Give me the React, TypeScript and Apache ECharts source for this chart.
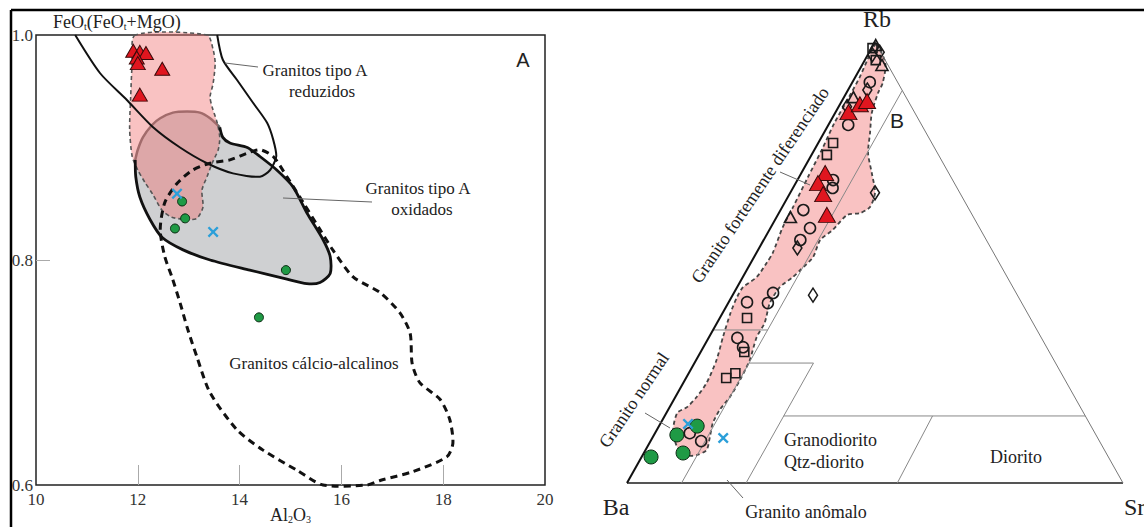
import React, { useEffect, useRef } from "react";
import * as echarts from "echarts";

const SERIF = '"Liberation Serif", "Times New Roman", serif';
const SANS = '"Liberation Sans", Arial, sans-serif';

// ---------- Panel A: FeOt/(FeOt+MgO) vs Al2O3 ----------
const xTickValues = [12, 14, 16, 18];
const yTickValues = [0.8];

const reducedField = [
  [10.77, 1.0], [11.26, 0.966], [11.79, 0.942], [12.3, 0.918], [12.83, 0.9], [13.36, 0.886],
  [13.87, 0.877], [14.4, 0.874], [14.6, 0.88], [14.72, 0.892], [14.66, 0.907], [14.54, 0.922],
  [14.26, 0.94], [13.95, 0.96], [13.67, 0.978], [13.56, 1.0],
];

const oxidizedField = [
  [11.96, 0.874], [11.95, 0.889], [12.0, 0.898], [12.1, 0.909], [12.28, 0.92], [12.44, 0.926],
  [12.69, 0.931], [12.97, 0.932], [13.22, 0.931], [13.42, 0.926], [13.61, 0.918], [13.67, 0.909],
  [13.81, 0.904], [14.15, 0.9], [14.4, 0.892], [14.73, 0.88], [15.05, 0.865], [15.32, 0.842],
  [15.64, 0.818], [15.78, 0.803], [15.78, 0.788], [15.58, 0.78], [15.32, 0.779], [14.93, 0.783],
  [14.2, 0.791], [13.42, 0.8], [12.89, 0.809], [12.48, 0.82], [12.24, 0.836], [12.04, 0.856],
];

const calcAlkField = [
  [12.44, 0.827], [12.53, 0.851], [12.77, 0.868], [13.08, 0.88], [13.42, 0.886], [13.81, 0.889],
  [14.15, 0.895], [14.4, 0.898], [14.66, 0.892], [14.93, 0.874], [15.25, 0.851], [15.58, 0.827],
  [15.83, 0.809], [16.23, 0.785], [16.76, 0.771], [17.15, 0.753], [17.35, 0.735], [17.39, 0.708],
  [17.54, 0.691], [17.94, 0.676], [18.13, 0.658], [18.19, 0.637], [18.07, 0.625], [17.41, 0.612],
  [16.76, 0.604], [16.5, 0.6], [15.64, 0.6], [15.13, 0.613], [14.46, 0.631], [13.95, 0.649],
  [13.42, 0.682], [13.16, 0.714], [12.97, 0.74], [12.83, 0.762], [12.67, 0.785], [12.53, 0.803],
];

const sampleFieldA = [
  [11.95, 1.0], [11.89, 0.975], [11.86, 0.945], [11.84, 0.916], [11.89, 0.892], [12.0, 0.88],
  [12.14, 0.869], [12.3, 0.858], [12.48, 0.844], [12.67, 0.838], [12.97, 0.836], [13.16, 0.837],
  [13.28, 0.847], [13.26, 0.862], [13.36, 0.874], [13.46, 0.886], [13.58, 0.898], [13.61, 0.909],
  [13.56, 0.922], [13.46, 0.936], [13.42, 0.945], [13.48, 0.957], [13.52, 0.975], [13.48, 0.987],
  [13.36, 1.0],
];

const redTriA = [
  [11.91, 0.986], [12.04, 0.985], [12.16, 0.984], [11.98, 0.98], [12.0, 0.975], [12.48, 0.97], [12.04, 0.947],
];
const greenA = [[12.87, 0.852], [12.93, 0.837], [12.73, 0.828], [14.91, 0.791], [14.38, 0.749]];
const blueA = [[12.77, 0.859], [13.48, 0.825]];

// ---------- Panel B: Rb-Ba-Sr ternary, pairs are [Rb %, Sr %] (Ba = 100 - Rb - Sr) ----------
const triangleEdges = {
  left: [[0, 0], [100, 0]],
  base: [[0, 0], [0, 100]],
  right: [[0, 100], [100, 0]],
};
const fieldLines = [
  [[0, 11], [89, 11]],
  [[34.7, 0], [34.7, 11]],
  [[27.2, 11], [27.2, 24]],
  [[27.2, 24], [0, 24]],
  [[15.2, 24], [15.2, 84.8]],
  [[15.2, 54], [0, 54.5]],
];

const sampleFieldB = [
  [99.5, 0.5], [95.2, 4.5], [90.7, 6.2], [88.4, 6.4], [83.9, 7.4], [79.4, 9.3], [74.8, 11.2],
  [70.3, 14.2], [65.8, 17.1], [62.6, 17.7], [61.2, 16.4], [60.8, 14.0], [57.4, 12.8], [55.1, 11.4],
  [51.2, 11.9], [48.3, 10.8], [46.7, 10.1], [44.4, 8.6], [40.8, 8.4], [36.3, 9.6], [33.1, 9.6],
  [27.9, 10.8], [23.4, 11.1], [19.5, 11.0], [16.6, 10.4], [13.6, 10.5], [10.4, 11.5], [7.5, 12.3],
  [6.3, 10.9], [6.3, 8.9], [8.2, 6.0], [12.0, 3.3], [15.9, 2.2], [17.2, 3.5], [19.5, 4.3],
  [22.7, 4.7], [27.9, 4.1], [33.1, 2.8], [38.5, 1.6], [42.2, 1.1], [44.4, 1.2], [46.7, 2.8],
  [49.9, 3.2], [52.2, 3.3], [58.0, 2.4], [62.6, 2.2], [69.4, 1.8], [75.5, 1.5], [81.6, 1.0],
  [87.5, 1.0], [92.1, 0.9], [95.9, 0.5], [98.2, 0.3],
];

const redTriB = [[84.1, 2.6], [85.9, 4.0], [86.6, 5.1], [70.3, 4.8], [68.0, 4.5], [65.5, 6.8], [60.8, 9.9]];
const openCircleB = [
  [81.2, 4.0], [90.9, 3.5], [68.7, 7.2], [66.9, 8.0], [61.9, 4.6], [57.8, 8.0], [55.1, 7.4],
  [41.0, 3.7], [43.1, 7.9], [40.8, 8.0], [32.9, 5.8], [30.8, 8.0], [11.3, 7.0], [9.5, 10.2],
];
const openSquareB = [[77.1, 3.0], [74.4, 3.1], [37.4, 5.5], [29.7, 8.8], [24.9, 9.4], [23.8, 8.1], [98.6, 0.2], [95.9, 2.2]];
const openTriB = [[99.3, 0.5], [94.8, 4.0], [87.5, 1.9], [60.3, 2.8]];
const diamondB = [[65.8, 17.1], [42.6, 16.2], [53.3, 7.7], [85.3, 1.7], [89.1, 3.9], [97.1, 0.9], [97.7, 2.1]];
const greenB = [[12.9, 7.7], [10.9, 4.6], [6.8, 7.9], [5.9, 1.9]];
const blueB = [[10.2, 14.3], [13.4, 5.6]];

// ternary -> cartesian of the second grid (X = Sr + Rb/2, Y = Rb)
const T = (p: number[]) => [p[1] + p[0] / 2, p[0]];

const CROSS = "path://M0,1.5L1.5,0L5,3.5L8.5,0L10,1.5L6.5,5L10,8.5L8.5,10L5,6.5L1.5,10L0,8.5L3.5,5Z";

type ShapeOpt = { g: number; z: number; closed?: boolean; fill?: string; stroke: string; lw: number; dash?: number[]; smooth?: number };

function shapeSeries(pts: number[][], o: ShapeOpt) {
  return {
    type: "custom",
    xAxisIndex: o.g,
    yAxisIndex: o.g,
    z: o.z,
    silent: true,
    clip: false,
    data: [pts[0]],
    renderItem: (_params: any, api: any) => ({
      type: o.closed ? "polygon" : "polyline",
      shape: { points: pts.map((p) => api.coord(p)), smooth: o.smooth ?? 0 },
      style: {
        fill: o.closed ? o.fill ?? null : null,
        stroke: o.stroke,
        lineWidth: o.lw,
        lineDash: o.dash ?? null,
      },
    }),
  };
}

function scatter(g: number, data: number[][], symbol: string, size: any, color: string, border: string, bw: number, z = 10) {
  return {
    type: "scatter",
    xAxisIndex: g,
    yAxisIndex: g,
    data,
    symbol,
    symbolSize: size,
    z,
    silent: true,
    itemStyle: { color, borderColor: border, borderWidth: bw, opacity: 1 },
  };
}

function txt(text: string, x: number, y: number, size: number, opts: any = {}) {
  return {
    type: "text",
    x,
    y,
    rotation: opts.rotation ?? 0,
    z: 50,
    silent: true,
    style: {
      text,
      fill: opts.fill ?? "#222",
      fontSize: size,
      fontFamily: opts.font ?? SERIF,
      align: opts.align ?? "center",
      verticalAlign: "middle",
      rich: opts.rich,
    },
  };
}

function gline(x1: number, y1: number, x2: number, y2: number, color = "#555", w = 1) {
  return { type: "line", silent: true, z: 40, shape: { x1, y1, x2, y2 }, style: { stroke: color, lineWidth: w } };
}

export default function App() {
  const ref = useRef<HTMLDivElement>(null);
  useEffect(() => {
    if (!ref.current) return;
    const chart = echarts.init(ref.current, undefined, { renderer: "svg" });
    const pinkFill = "rgba(240,110,110,0.42)";
    const subRich = {
      n: { fontSize: 18, fontFamily: SERIF, color: "#222" },
      s: { fontSize: 10, fontFamily: SERIF, color: "#222", padding: [9, 0, 0, 0] },
    };
    // outline of the oxidized field: the part hidden under the sample field is drawn lighter
    const oxArc = oxidizedField.slice(1, 11);
    const oxRest = oxidizedField.slice(10).concat(oxidizedField.slice(0, 2));
    const option: any = {
      animation: false,
      grid: [
        { left: 36, top: 35, width: 509, height: 450, show: true, borderColor: "#222", borderWidth: 1.5, backgroundColor: "transparent", outerBoundsMode: "none" },
        { left: 627, top: 42, width: 496, height: 441, show: false, outerBoundsMode: "none" },
      ],
      xAxis: [
        {
          gridIndex: 0, type: "value", min: 10, max: 20, interval: 2,
          axisLine: { show: false }, splitLine: { show: false },
          axisTick: { show: true, inside: true, length: 20, lineStyle: { color: "#aaa", width: 1 }, customValues: xTickValues },
          axisLabel: { color: "#333", fontFamily: SERIF, fontSize: 17, margin: 6 },
        },
        { gridIndex: 1, type: "value", min: 0, max: 100, show: false },
      ],
      yAxis: [
        {
          gridIndex: 0, type: "value", min: 0.6, max: 1.0, interval: 0.2,
          axisLine: { show: false }, splitLine: { show: false },
          axisTick: { show: true, inside: true, length: 14, lineStyle: { color: "#aaa", width: 1 }, customValues: yTickValues },
          axisLabel: { color: "#333", fontFamily: SERIF, fontSize: 17, margin: 3, formatter: (v: number) => v.toFixed(1) },
        },
        { gridIndex: 1, type: "value", min: 0, max: 100, show: false },
      ],
      series: [
        // Panel A fields
        shapeSeries(oxidizedField, { g: 0, z: 1, closed: true, fill: "#cfd0d2", stroke: "none", lw: 0, smooth: 0.25 }),
        shapeSeries(oxArc, { g: 0, z: 1, stroke: "#6a6a6a", lw: 2.5, smooth: 0.25 }),
        shapeSeries(sampleFieldA, { g: 0, z: 2, closed: true, fill: pinkFill, stroke: "#555", lw: 1.6, dash: [4, 3], smooth: 0.25 }),
        shapeSeries(oxRest, { g: 0, z: 3, stroke: "#111", lw: 2.8, smooth: 0.25 }),
        shapeSeries(calcAlkField, { g: 0, z: 3, closed: true, fill: "none", stroke: "#111", lw: 3, dash: [7, 5], smooth: 0.25 }),
        shapeSeries(reducedField, { g: 0, z: 3, stroke: "#111", lw: 2, smooth: 0.25 }),
        scatter(0, redTriA, "triangle", [15, 13], "#e0161f", "#3a0a0a", 1),
        scatter(0, greenA, "circle", 9, "#1f9a45", "#0b2a12", 1),
        scatter(0, blueA, CROSS, 11, "#2b9fd9", "#2b9fd9", 0),

        // Panel B triangle and fields
        shapeSeries(sampleFieldB.map(T), { g: 1, z: 2, closed: true, fill: pinkFill, stroke: "#444", lw: 1.8, dash: [4, 3], smooth: 0.25 }),
        shapeSeries(triangleEdges.base.map(T), { g: 1, z: 3, stroke: "#555", lw: 2 }),
        shapeSeries(triangleEdges.right.map(T), { g: 1, z: 3, stroke: "#777", lw: 1 }),
        shapeSeries(triangleEdges.left.map(T), { g: 1, z: 4, stroke: "#111", lw: 2 }),
        ...fieldLines.map((seg) => shapeSeries(seg.map(T), { g: 1, z: 3, stroke: "#888", lw: 1 })),
        scatter(1, openCircleB.map(T), "circle", 11, "rgba(0,0,0,0)", "#1a1a1a", 1.6),
        scatter(1, openSquareB.map(T), "rect", 9, "rgba(0,0,0,0)", "#1a1a1a", 1.6),
        scatter(1, openTriB.map(T), "triangle", [12, 11], "rgba(0,0,0,0)", "#1a1a1a", 1.6),
        scatter(1, diamondB.map(T), "diamond", [9, 14], "rgba(0,0,0,0)", "#1a1a1a", 1.6),
        scatter(1, redTriB.map(T), "triangle", [17, 15], "#e0161f", "#3a0a0a", 1, 11),
        scatter(1, greenB.map(T), "circle", 14, "#1f9a45", "#0b2a12", 1, 11),
        scatter(1, blueB.map(T), CROSS, 11, "#2b9fd9", "#2b9fd9", 0, 11),
      ],
      graphic: [
        gline(11, 10, 1144, 10, "#000", 2.5),
        gline(11, 10, 11, 527, "#000", 2.5),
        // Panel A texts
        txt("{n|FeO}{s|t}{n|(FeO}{s|t}{n|+MgO)}", 53, 22, 18, { align: "left", rich: subRich }),
        txt("{n|Al}{s|2}{n|O}{s|3}", 270, 515, 18, { align: "left", rich: subRich }),
        txt("A", 523, 60, 20, { font: SANS }),
        txt("Granitos tipo A", 315, 70, 17),
        txt("reduzidos", 322, 91, 17),
        gline(225, 63, 258, 67, "#666", 1),
        txt("Granitos tipo A", 418, 188, 17),
        txt("oxidados", 422, 209, 17),
        gline(283, 198, 372, 202, "#666", 1),
        txt("Granitos cálcio-alcalinos", 314, 363, 17),
        // Panel B texts
        txt("Rb", 877, 19, 24),
        txt("Ba", 616, 507, 24),
        txt("Sr", 1124, 507, 24, { align: "left" }),
        txt("B", 897, 120, 21, { font: SANS }),
        txt("Granito fortemente diferenciado", 760, 185, 18, { rotation: (56 * Math.PI) / 180 }),
        gline(780, 172, 810, 185, "#666", 1),
        txt("Granito normal", 634, 400, 18, { rotation: (56 * Math.PI) / 180 }),
        gline(645, 413, 670, 428, "#666", 1),
        txt("Granodiorito", 784, 440, 18, { align: "left" }),
        txt("Qtz-diorito", 784, 462, 18, { align: "left" }),
        txt("Diorito", 1016, 457, 18),
        txt("Granito anômalo", 806, 512, 18),
        gline(727, 480, 743, 498, "#666", 1),
      ],
    };
    chart.setOption(option);
    return () => chart.dispose();
  }, []);
  return <div ref={ref} style={{ position: "fixed", left: 0, top: 0, width: 1144, height: 527, background: "#fff" }} />;
}
